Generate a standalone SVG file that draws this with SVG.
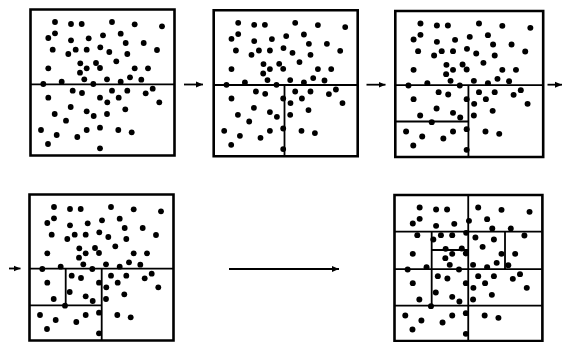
<svg xmlns="http://www.w3.org/2000/svg" xmlns:xlink="http://www.w3.org/1999/xlink" width="563" height="342" viewBox="0 0 563 342">
<style>
.box{fill:none;stroke:#000;stroke-width:2.6;vector-effect:non-scaling-stroke}
.split{fill:none;stroke:#000;stroke-width:1.8;vector-effect:non-scaling-stroke}
.dots circle{fill:#000}
.conn{fill:none;stroke:#000;stroke-width:1.8;marker-end:url(#ah)}
</style>
<defs>
<marker id="ah" markerUnits="userSpaceOnUse" markerWidth="8" markerHeight="7" refX="7" refY="3.5" orient="auto">
<path d="M0,0.5 L7,3.5 L0,6.5 z" fill="#000"/>
</marker>
<g id="dots" class="dots">
<circle cx="24.5" cy="12.5" r="2.9"/><circle cx="40.5" cy="14.5" r="2.9"/><circle cx="51.2" cy="14.5" r="2.9"/><circle cx="81.5" cy="12.5" r="2.9"/><circle cx="104.2" cy="14.8" r="2.9"/><circle cx="131.5" cy="16.8" r="2.9"/>
<circle cx="24.5" cy="23.8" r="2.9"/><circle cx="17.8" cy="28.5" r="2.9"/><circle cx="40.5" cy="30.8" r="2.9"/><circle cx="58.2" cy="28.8" r="2.9"/><circle cx="72.5" cy="25.8" r="2.9"/><circle cx="90.2" cy="24.2" r="2.9"/><circle cx="95.2" cy="33.5" r="2.9"/><circle cx="113.2" cy="33.5" r="2.9"/>
<circle cx="22.2" cy="40.2" r="2.9"/><circle cx="37.8" cy="44.5" r="2.9"/><circle cx="45.2" cy="40.2" r="2.9"/><circle cx="56.2" cy="40.2" r="2.9"/><circle cx="69.8" cy="37.8" r="2.9"/><circle cx="78.8" cy="42.5" r="2.9"/><circle cx="96.8" cy="44.5" r="2.9"/><circle cx="126.5" cy="40.5" r="2.9"/>
<circle cx="49.8" cy="53.8" r="2.9"/><circle cx="65.5" cy="53.5" r="2.9"/><circle cx="69.5" cy="58.5" r="2.9"/><circle cx="85.8" cy="51.8" r="2.9"/><circle cx="17.8" cy="58.8" r="2.9"/><circle cx="56.2" cy="58.8" r="2.9"/><circle cx="49.5" cy="63.2" r="2.9"/><circle cx="104.2" cy="58.8" r="2.9"/><circle cx="117.5" cy="58.8" r="2.9"/>
<circle cx="53.8" cy="69.8" r="2.9"/><circle cx="76.5" cy="69.8" r="2.9"/><circle cx="90.2" cy="72.2" r="2.9"/><circle cx="99.5" cy="67.8" r="2.9"/><circle cx="110.8" cy="70.2" r="2.9"/><circle cx="31.2" cy="72.2" r="2.9"/><circle cx="12.8" cy="74.5" r="2.9"/><circle cx="62.8" cy="74.5" r="2.9"/>
<circle cx="42.2" cy="81.2" r="2.9"/><circle cx="51.5" cy="83.5" r="2.9"/><circle cx="81.5" cy="81.2" r="2.9"/><circle cx="96.8" cy="81.2" r="2.9"/><circle cx="122.2" cy="79.2" r="2.9"/><circle cx="115.2" cy="83.8" r="2.9"/>
<circle cx="17.8" cy="88.2" r="2.9"/><circle cx="69.5" cy="88.2" r="2.9"/><circle cx="76.8" cy="92.8" r="2.9"/><circle cx="88.2" cy="88.2" r="2.9"/><circle cx="128.8" cy="92.8" r="2.9"/>
<circle cx="40.2" cy="97.5" r="2.9"/><circle cx="94.8" cy="99.8" r="2.9"/><circle cx="56.2" cy="101.8" r="2.9"/><circle cx="24.2" cy="104.5" r="2.9"/><circle cx="63.2" cy="106.5" r="2.9"/><circle cx="76.5" cy="104.5" r="2.9"/><circle cx="35.5" cy="111.2" r="2.9"/>
<circle cx="10.5" cy="120.5" r="2.9"/><circle cx="69.5" cy="118.2" r="2.9"/><circle cx="56.2" cy="120.5" r="2.9"/><circle cx="87.8" cy="120.5" r="2.9"/><circle cx="101.2" cy="122.8" r="2.9"/><circle cx="26.2" cy="125.5" r="2.9"/><circle cx="46.8" cy="127.5" r="2.9"/><circle cx="17.5" cy="134.5" r="2.9"/><circle cx="69.5" cy="138.8" r="2.9"/>
</g>
</defs>
<g id="panel1" transform="translate(30.5,9.5)">
<rect class="box" x="0" y="0" width="144" height="146"/>
<use xlink:href="#dots"/>
<path class="split" d="M0,74.8 H144"/>
</g>
<g id="panel2" transform="translate(213.7,10.3)">
<rect class="box" x="0" y="0" width="144" height="146"/>
<use xlink:href="#dots"/>
<path class="split" d="M0,74.7 H144 M70.8,74.7 V146"/>
</g>
<g id="panel3" transform="translate(395.3,11) scale(1.027,1)">
<rect class="box" x="0" y="0" width="144" height="146"/>
<use xlink:href="#dots"/>
<path class="split" d="M0,74.2 H144 M71.2,74.2 V146 M0,110.5 H71.2"/>
</g>
<g id="panel4" transform="translate(29.5,194.5)">
<rect class="box" x="0" y="0" width="144" height="146"/>
<use xlink:href="#dots"/>
<path class="split" d="M0,74.2 H144 M72.2,74.2 V146 M0,110.8 H72.2 M36.2,74.2 V110.8"/>
</g>
<g id="panel5" transform="translate(394.5,195) scale(1.027,1)">
<rect class="box" x="0" y="0" width="144" height="146"/>
<use xlink:href="#dots"/>
<path class="split" d="M0,36.7 H144 M0,74.2 H144 M0,110.7 H144 M71.8,0 V146 M36.2,36.7 V110.7 M36.2,55 H71.8 M107.6,36.7 V74.2"/>
</g>
<g id="connectors">
<path class="conn" d="M184,84.5 H203"/>
<path class="conn" d="M366.5,84.7 H385.5"/>
<path class="conn" d="M547.5,84.7 H562"/>
<path class="conn" d="M9,268.5 H20.5"/>
<path class="conn" d="M229,269 H339"/>
</g>
</svg>
